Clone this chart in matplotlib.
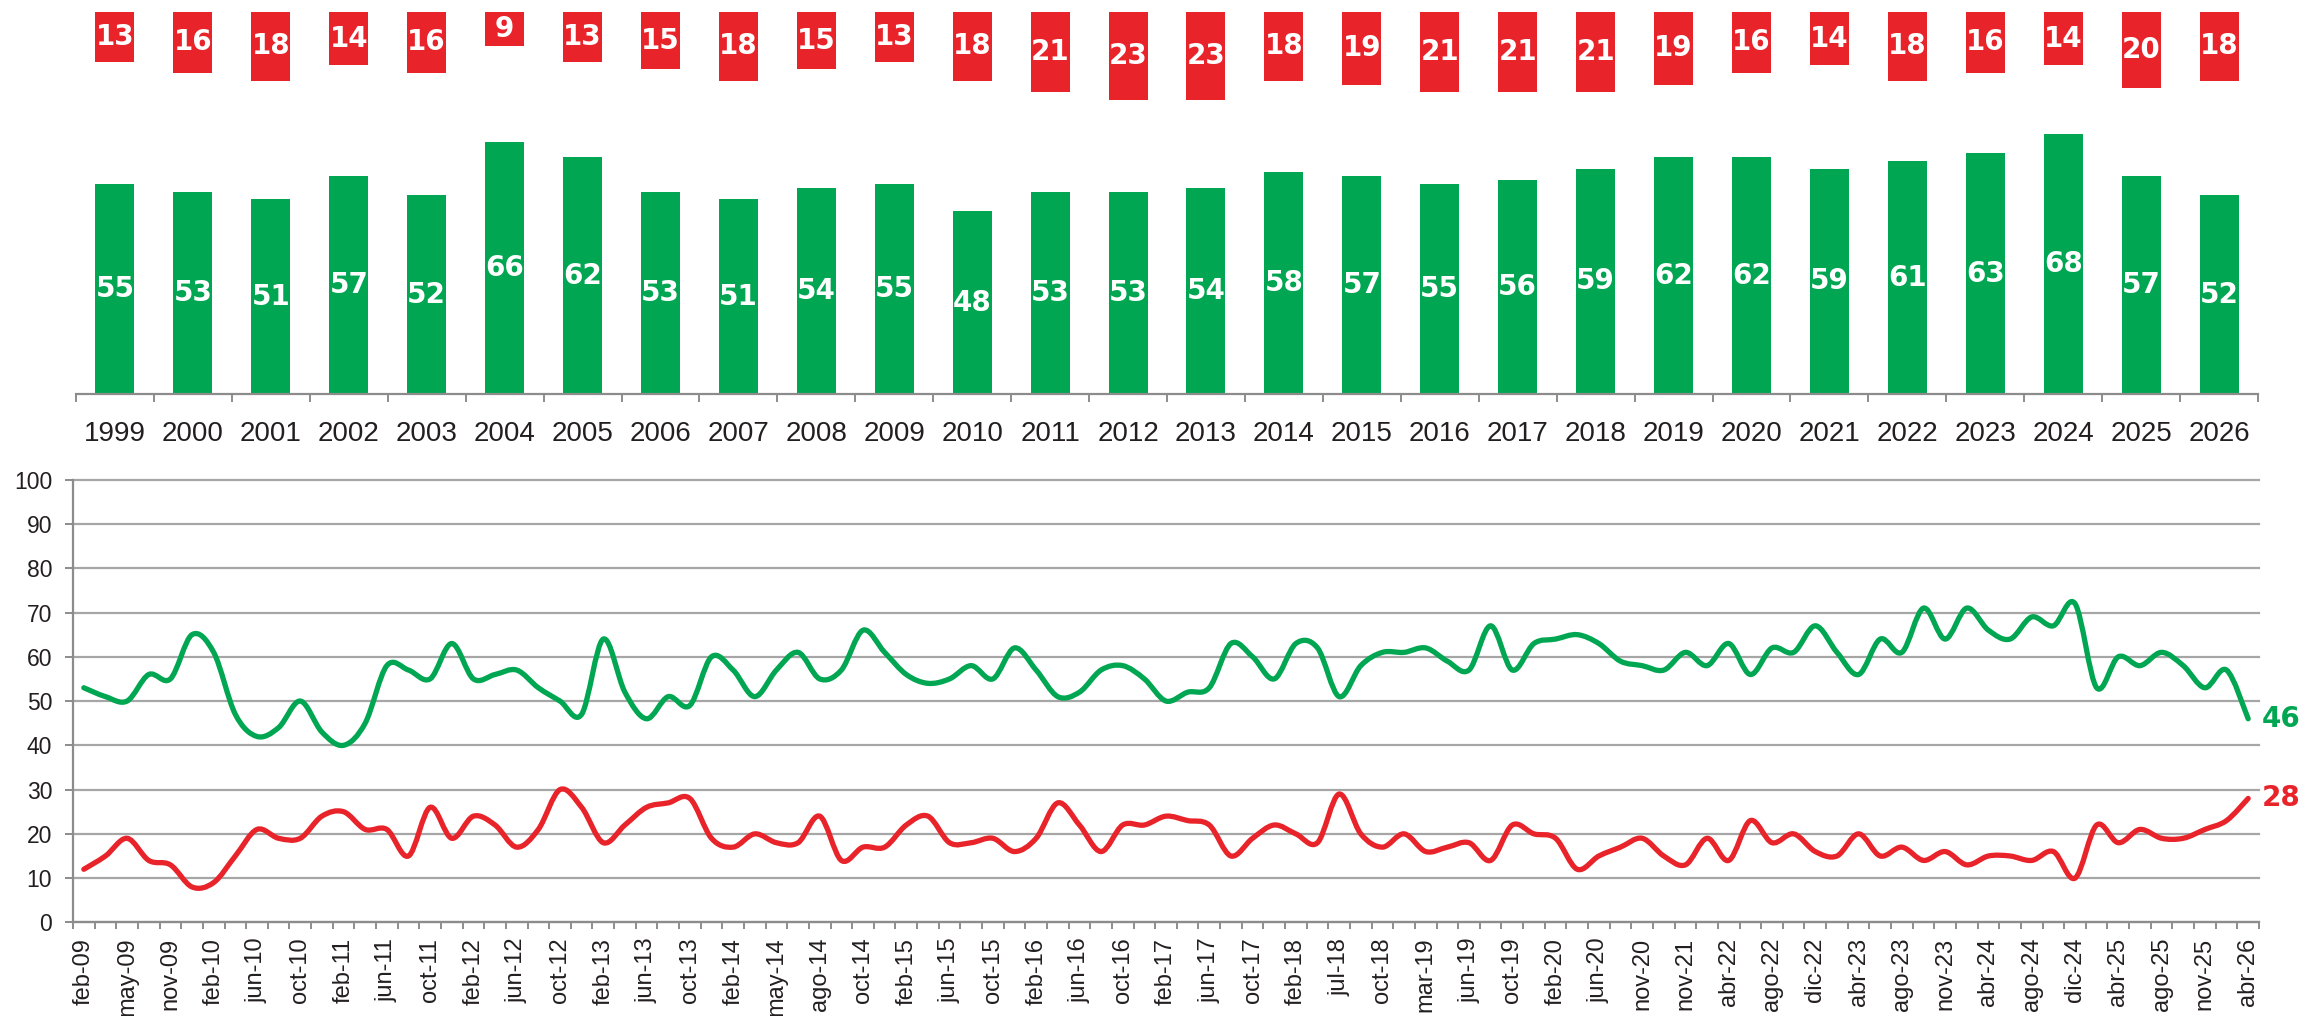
import matplotlib
matplotlib.use("Agg")
import matplotlib.pyplot as plt
from matplotlib.path import Path
from matplotlib.patches import PathPatch
import numpy as np

# --- top panel: yearly values ---
years = [str(y) for y in range(1999, 2027)]
green_bars = [55, 53, 51, 57, 52, 66, 62, 53, 51, 54, 55, 48, 53, 53,
              54, 58, 57, 55, 56, 59, 62, 62, 59, 61, 63, 68, 57, 52]
red_bars = [13, 16, 18, 14, 16, 9, 13, 15, 18, 15, 13, 18, 21, 23,
            23, 18, 19, 21, 21, 21, 19, 16, 14, 18, 16, 14, 20, 18]

# --- bottom panel: survey series (one value per survey) ---
green_line = [53, 51, 50, 56, 55, 65, 61, 47, 42, 44,
              50, 43, 40, 45, 58, 57, 55, 63, 55, 56,
              57, 53, 50, 47, 64, 52, 46, 51, 49, 60,
              57, 51, 57, 61, 55, 57, 66, 61, 56, 54,
              55, 58, 55, 62, 57, 51, 52, 57, 58, 55,
              50, 52, 53, 63, 60, 55, 63, 62, 51, 58,
              61, 61, 62, 59, 57, 67, 57, 63, 64, 65,
              63, 59, 58, 57, 61, 58, 63, 56, 62, 61,
              67, 61, 56, 64, 61, 71, 64, 71, 66, 64,
              69, 67, 72, 53, 60, 58, 61, 58, 53, 57, 46]
red_line = [12, 15, 19, 14, 13, 8, 9, 15, 21, 19,
            19, 24, 25, 21, 21, 15, 26, 19, 24, 22,
            17, 21, 30, 26, 18, 22, 26, 27, 28, 19,
            17, 20, 18, 18, 24, 14, 17, 17, 22, 24,
            18, 18, 19, 16, 19, 27, 22, 16, 22, 22,
            24, 23, 22, 15, 19, 22, 20, 18, 29, 20,
            17, 20, 16, 17, 18, 14, 22, 20, 19, 12,
            15, 17, 19, 15, 13, 19, 14, 23, 18, 20,
            16, 15, 20, 15, 17, 14, 16, 13, 15, 15,
            14, 16, 10, 22, 18, 21, 19, 19, 21, 23, 28]
tick_labels = ["feb-09", "may-09", "nov-09", "feb-10", "jun-10", "oct-10",
               "feb-11", "jun-11", "oct-11", "feb-12", "jun-12", "oct-12",
               "feb-13", "jun-13", "oct-13", "feb-14", "may-14", "ago-14",
               "oct-14", "feb-15", "jun-15", "oct-15", "feb-16", "jun-16",
               "oct-16", "feb-17", "jun-17", "oct-17", "feb-18", "jul-18",
               "oct-18", "mar-19", "jun-19", "oct-19", "feb-20", "jun-20",
               "nov-20", "nov-21", "abr-22", "ago-22", "dic-22", "abr-23",
               "ago-23", "nov-23", "abr-24", "ago-24", "dic-24", "abr-25",
               "ago-25", "nov-25", "abr-26"]

GREEN = "#00A651"
RED = "#E8232A"
GRID = "#A6A6A6"
TXT = "#231F20"


def smooth_path(x, y):
    # excel-like smoothed line: catmull-rom segments as cubic beziers
    pts = np.column_stack([x, y]).astype(float)
    n = len(pts)
    verts = [pts[0]]
    codes = [Path.MOVETO]
    for i in range(n - 1):
        p0 = pts[max(i - 1, 0)]
        p1 = pts[i]
        p2 = pts[i + 1]
        p3 = pts[min(i + 2, n - 1)]
        verts += [p1 + (p2 - p0) / 6, p2 - (p3 - p1) / 6, p2]
        codes += [Path.CURVE4] * 3
    return Path(verts, codes)


W, H = 2303, 1016
fig = plt.figure(figsize=(W / 100, H / 100), dpi=100)

# ---------------- top bars ----------------
ax1 = fig.add_axes([76 / W, 1 - 394.3 / H, (2258 - 76) / W, 394.3 / H])
xb = np.arange(len(years))
ax1.bar(xb, green_bars, width=0.5, color=GREEN)
ax1.bar(xb, red_bars, width=0.5, bottom=[100 - v for v in red_bars], color=RED)
for i in xb:
    ax1.text(i, green_bars[i] / 2, str(green_bars[i]), ha="center", va="center",
             color="white", fontsize=20, fontweight="bold", family="DejaVu Sans")
    ax1.text(i, 100 - red_bars[i] / 2, str(red_bars[i]), ha="center", va="center",
             color="white", fontsize=20, fontweight="bold", family="DejaVu Sans")
ax1.set_xlim(-0.5, len(years) - 0.5)
ax1.set_ylim(0, 103.1)
for s in ["top", "right", "left"]:
    ax1.spines[s].set_visible(False)
ax1.spines["bottom"].set_color("#8C8C8C")
ax1.spines["bottom"].set_linewidth(1.6)
ax1.set_yticks([])
ax1.set_xticks(xb)
ax1.set_xticklabels(years, fontsize=20, color=TXT, family="Liberation Sans")
ax1.set_xticks(np.arange(-0.5, len(years)), minor=True)
ax1.tick_params(axis="x", which="major", length=0, pad=19)
ax1.tick_params(axis="x", which="minor", length=6, width=1.4, color="#8C8C8C")

# ---------------- bottom lines ----------------
ax2 = fig.add_axes([73 / W, 1 - 922.4 / H, 2186 / W, (922.4 - 479.7) / H])
xs = np.arange(len(green_line))
ax2.add_patch(PathPatch(smooth_path(xs, green_line), fill=False, edgecolor=GREEN,
                        lw=3.8, capstyle="round", joinstyle="round", zorder=3))
ax2.add_patch(PathPatch(smooth_path(xs, red_line), fill=False, edgecolor=RED,
                        lw=3.8, capstyle="round", joinstyle="round", zorder=3))
ax2.annotate(str(green_line[-1]), (xs[-1], green_line[-1]), xytext=(10, 0),
             textcoords="offset points", va="center", ha="left", color=GREEN,
             fontsize=20, fontweight="bold", family="DejaVu Sans", annotation_clip=False)
ax2.annotate(str(red_line[-1]), (xs[-1], red_line[-1]), xytext=(10, 0),
             textcoords="offset points", va="center", ha="left", color=RED,
             fontsize=20, fontweight="bold", family="DejaVu Sans", annotation_clip=False)

ax2.set_xlim(-0.5, len(green_line) - 0.5)
ax2.set_ylim(0, 100)
ax2.set_yticks(range(0, 101, 10))
ax2.yaxis.grid(True, color=GRID, lw=1.6, clip_on=False)
ax2.set_axisbelow(True)
for s in ["top", "right"]:
    ax2.spines[s].set_visible(False)
for s in ["left", "bottom"]:
    ax2.spines[s].set_color("#8C8C8C")
    ax2.spines[s].set_linewidth(1.6)
ax2.tick_params(axis="y", length=6, width=1.4, color="#8C8C8C", pad=9,
                labelsize=16.5, labelcolor=TXT)
for t in ax2.get_yticklabels():
    t.set_family("Liberation Sans")
ax2.set_xticks(range(0, len(green_line), 2))
ax2.set_xticklabels(tick_labels, rotation=90, fontsize=17, color=TXT,
                    family="Liberation Sans", va="top", ha="center")
ax2.set_xticks(np.arange(-0.5, len(green_line)), minor=True)
ax2.tick_params(axis="x", which="major", length=0, pad=11)
ax2.tick_params(axis="x", which="minor", length=5, width=1.4, color="#8C8C8C")

fig.savefig("out.png", dpi=100)
